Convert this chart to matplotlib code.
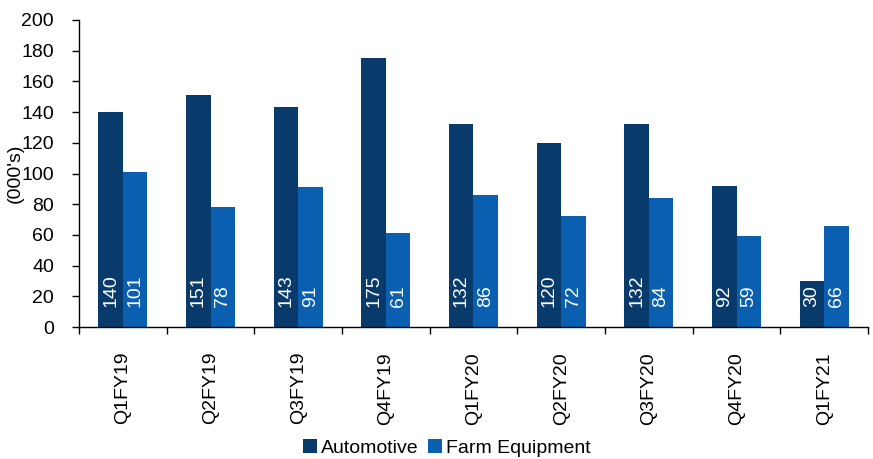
import numpy as np
import matplotlib.pyplot as plt
from matplotlib.ticker import FixedLocator

plt.rcParams['font.family'] = ['Liberation Sans', 'DejaVu Sans']

quarters = ['Q1FY19', 'Q2FY19', 'Q3FY19', 'Q4FY19', 'Q1FY20',
            'Q2FY20', 'Q3FY20', 'Q4FY20', 'Q1FY21']
automotive = [140, 151, 143, 175, 132, 120, 132, 92, 30]
farm_equipment = [101, 78, 91, 61, 86, 72, 84, 59, 66]

dark_blue = '#083a6b'
light_blue = '#0a5fb0'

fig = plt.figure(figsize=(8.73, 4.59), dpi=100)
ax = fig.add_axes([79 / 873, 132 / 459, 789 / 873, 307 / 459])

x = np.arange(len(quarters))
w = 0.28
b1 = ax.bar(x - w / 2, automotive, w, color=dark_blue, label='Automotive')
b2 = ax.bar(x + w / 2, farm_equipment, w, color=light_blue, label='Farm Equipment')

# value labels sit at the foot of each bar, reading upwards
for bars, vals in ((b1, automotive), (b2, farm_equipment)):
    for bar, v in zip(bars, vals):
        ax.annotate(str(v), (bar.get_x() + bar.get_width() / 2, 0),
                    xytext=(0, 14.5), textcoords='offset points',
                    rotation=90, ha='center', va='bottom',
                    color='white', fontsize=14)

ax.set_xlim(-0.5, len(quarters) - 0.5)
ax.set_ylim(0, 200)
ax.set_yticks(range(0, 201, 20))
ax.set_xticks(x)
ax.set_xticklabels(quarters, rotation=90)
ax.xaxis.set_minor_locator(FixedLocator(np.arange(-0.5, len(quarters), 1.0)))
ax.tick_params(axis='x', which='major', length=0, pad=18, labelsize=14)
ax.tick_params(axis='x', which='minor', length=5, width=1, direction='out')
ax.tick_params(axis='y', length=5, width=1, direction='out', labelsize=14, pad=13)

for s in ('top', 'right'):
    ax.spines[s].set_visible(False)
for s in ('left', 'bottom'):
    ax.spines[s].set_linewidth(1)

ax.set_ylabel("(000's)", fontsize=14)
ax.yaxis.set_label_coords(-0.07, 0.5)

fig.legend(handles=[b1, b2], loc='center', bbox_to_anchor=(0.512, 0.024),
           ncol=2, frameon=False, fontsize=14, handlelength=0.7,
           handleheight=0.7, handletextpad=0.2, columnspacing=0.5)

fig.savefig('out.png', dpi=100)
